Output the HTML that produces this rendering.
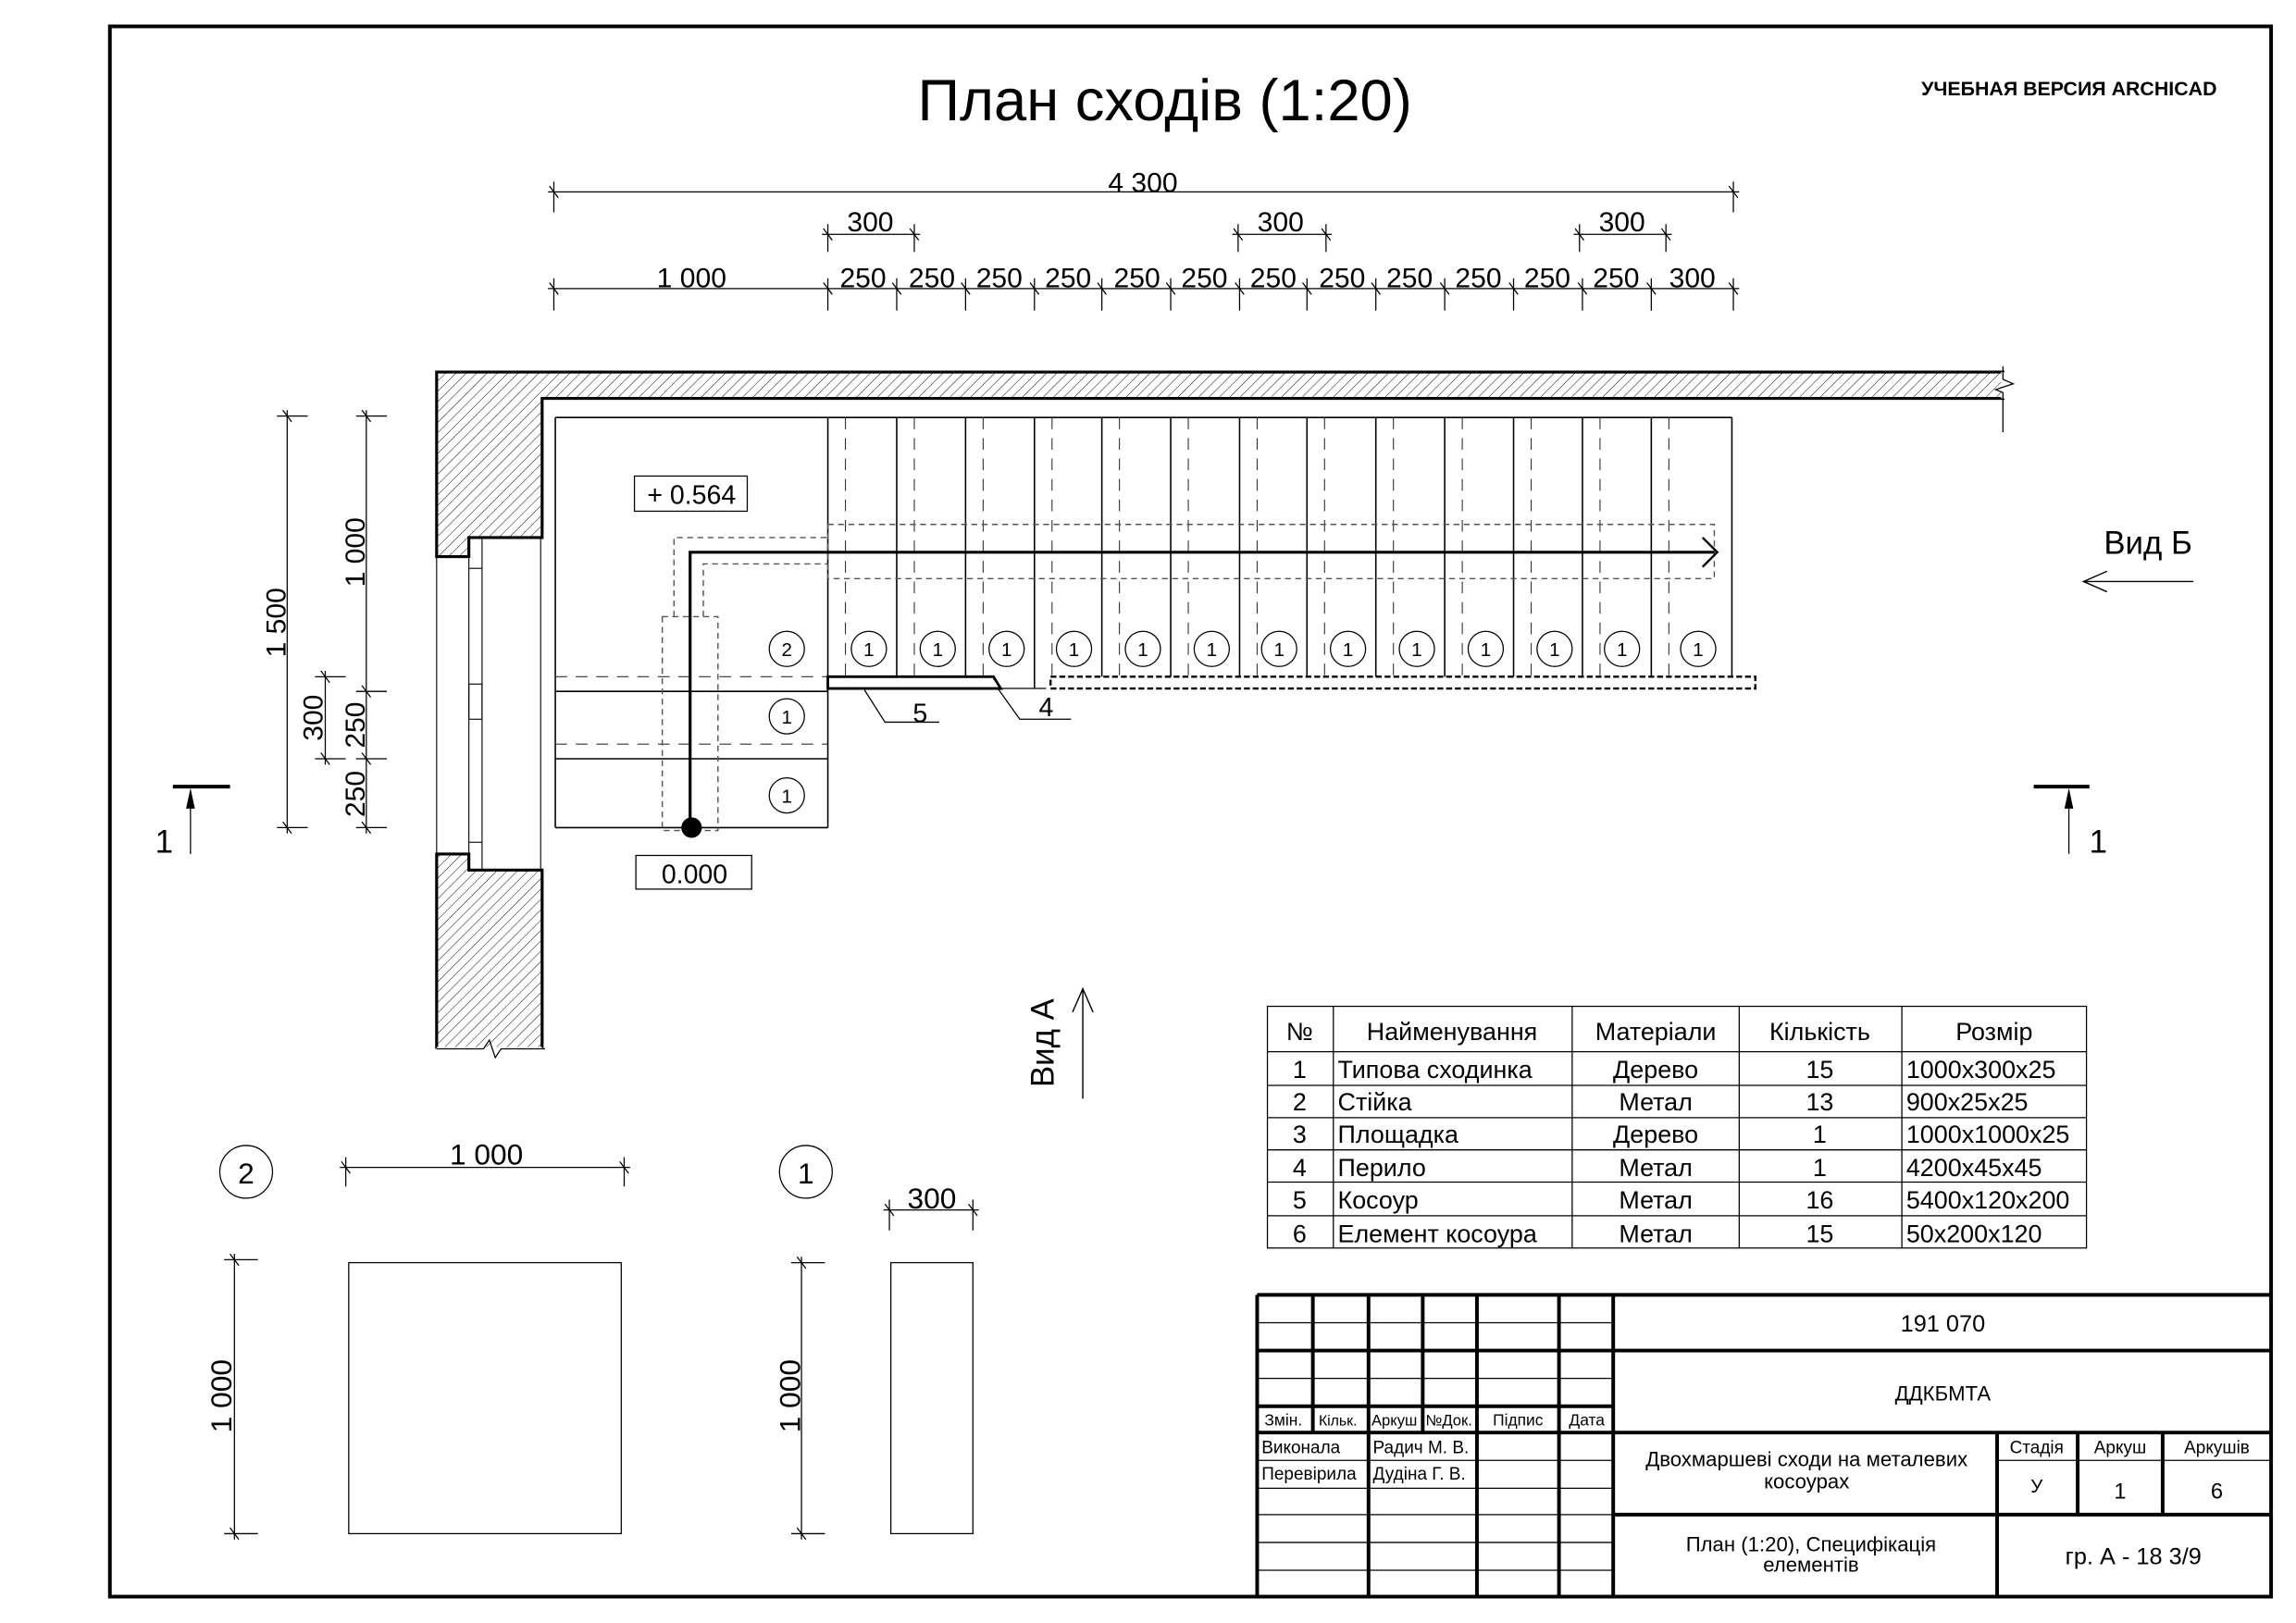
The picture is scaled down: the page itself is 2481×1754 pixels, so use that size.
<!DOCTYPE html>
<html><head><meta charset="utf-8"><style>html,body{margin:0;padding:0;background:#fff}svg{display:block}text{font-family:"Liberation Sans","DejaVu Sans",sans-serif;fill:#000}</style></head><body>
<svg width="2481" height="1754" viewBox="0 0 1567 1108" preserveAspectRatio="none" xmlns="http://www.w3.org/2000/svg">
<defs>
<pattern id="h" patternUnits="userSpaceOnUse" width="5" height="5" patternTransform="rotate(45)"><line x1="0" y1="0" x2="0" y2="5" stroke="#000" stroke-width="0.6"/></pattern>
</defs>
<rect x="75" y="18" width="1475" height="1072" fill="none" stroke="#000" stroke-width="2.5"/>
<text x="795" y="82" font-size="40" text-anchor="middle">План сходів (1:20)</text>
<text x="1513" y="65" font-size="13.5" font-weight="bold" text-anchor="end">УЧЕБНАЯ ВЕРСИЯ ARCHICAD</text>

<g stroke="#000" stroke-width="0.8" fill="none">
<line x1="374" y1="131" x2="1187" y2="131"/>
<line x1="378" y1="124" x2="378" y2="145"/><line x1="1183" y1="124" x2="1183" y2="145"/>
<line x1="375" y1="127" x2="381" y2="135"/><line x1="1180" y1="127" x2="1186" y2="135"/>
<line x1="561" y1="160" x2="628" y2="160"/><line x1="565" y1="153" x2="565" y2="172"/><line x1="624" y1="153" x2="624" y2="172"/>
<line x1="562" y1="156" x2="568" y2="164"/><line x1="621" y1="156" x2="627" y2="164"/>
<line x1="841" y1="160" x2="909" y2="160"/><line x1="845" y1="153" x2="845" y2="172"/><line x1="905" y1="153" x2="905" y2="172"/>
<line x1="842" y1="156" x2="848" y2="164"/><line x1="902" y1="156" x2="908" y2="164"/>
<line x1="1074" y1="160" x2="1141" y2="160"/><line x1="1078" y1="153" x2="1078" y2="172"/><line x1="1137" y1="153" x2="1137" y2="172"/>
<line x1="1075" y1="156" x2="1081" y2="164"/><line x1="1134" y1="156" x2="1140" y2="164"/>
<line x1="374" y1="197" x2="1187" y2="197"/>
<line x1="378" y1="190" x2="378" y2="212"/><line x1="375" y1="193" x2="381" y2="201"/>
<line x1="565" y1="190" x2="565" y2="212"/><line x1="562" y1="193" x2="568" y2="201"/>
<line x1="612" y1="190" x2="612" y2="212"/><line x1="609" y1="193" x2="615" y2="201"/>
<line x1="659" y1="190" x2="659" y2="212"/><line x1="656" y1="193" x2="662" y2="201"/>
<line x1="706" y1="190" x2="706" y2="212"/><line x1="703" y1="193" x2="709" y2="201"/>
<line x1="752" y1="190" x2="752" y2="212"/><line x1="749" y1="193" x2="755" y2="201"/>
<line x1="799" y1="190" x2="799" y2="212"/><line x1="796" y1="193" x2="802" y2="201"/>
<line x1="846" y1="190" x2="846" y2="212"/><line x1="843" y1="193" x2="849" y2="201"/>
<line x1="892" y1="190" x2="892" y2="212"/><line x1="889" y1="193" x2="895" y2="201"/>
<line x1="939" y1="190" x2="939" y2="212"/><line x1="936" y1="193" x2="942" y2="201"/>
<line x1="986" y1="190" x2="986" y2="212"/><line x1="983" y1="193" x2="989" y2="201"/>
<line x1="1033" y1="190" x2="1033" y2="212"/><line x1="1030" y1="193" x2="1036" y2="201"/>
<line x1="1080" y1="190" x2="1080" y2="212"/><line x1="1077" y1="193" x2="1083" y2="201"/>
<line x1="1127" y1="190" x2="1127" y2="212"/><line x1="1124" y1="193" x2="1130" y2="201"/>
<line x1="1183" y1="190" x2="1183" y2="212"/><line x1="1180" y1="193" x2="1186" y2="201"/>
<line x1="196" y1="280" x2="196" y2="569"/>
<line x1="189" y1="284" x2="210" y2="284"/><line x1="189" y1="565" x2="210" y2="565"/>
<line x1="193" y1="280" x2="199" y2="288"/><line x1="193" y1="561" x2="199" y2="569"/>
<line x1="250" y1="280" x2="250" y2="569"/>
<line x1="243" y1="284" x2="264" y2="284"/><line x1="243" y1="472" x2="264" y2="472"/><line x1="243" y1="518" x2="264" y2="518"/><line x1="243" y1="565" x2="264" y2="565"/>
<line x1="247" y1="280" x2="253" y2="288"/><line x1="247" y1="468" x2="253" y2="476"/><line x1="247" y1="514" x2="253" y2="522"/><line x1="247" y1="561" x2="253" y2="569"/>
<line x1="222" y1="458" x2="222" y2="522"/>
<line x1="215" y1="462" x2="236" y2="462"/><line x1="215" y1="518" x2="236" y2="518"/>
<line x1="219" y1="458" x2="225" y2="466"/><line x1="219" y1="514" x2="225" y2="522"/>
</g>
<g font-size="19" text-anchor="middle">
<text x="780" y="131">4 300</text>
<text x="594" y="158">300</text><text x="874" y="158">300</text><text x="1107" y="158">300</text>
<text x="472" y="196">1 000</text>
<text x="589" y="196">250</text><text x="636" y="196">250</text><text x="682" y="196">250</text><text x="729" y="196">250</text><text x="776" y="196">250</text><text x="822" y="196">250</text><text x="869" y="196">250</text><text x="916" y="196">250</text><text x="962" y="196">250</text><text x="1009" y="196">250</text><text x="1056" y="196">250</text><text x="1103" y="196">250</text><text x="1155" y="196">300</text>
<text transform="translate(195,425) rotate(-90)">1 500</text>
<text transform="translate(249,377) rotate(-90)">1 000</text>
<text transform="translate(249,495) rotate(-90)">250</text>
<text transform="translate(249,542) rotate(-90)">250</text>
<text transform="translate(220,490) rotate(-90)">300</text>
</g>

<path d="M298,254 H1367 V272 H370 V367 H320 V380 H298 Z" fill="url(#h)" stroke="#000" stroke-width="2"/>
<path d="M298,716 V583 H320 V594 H370 V716" fill="url(#h)" stroke="#000" stroke-width="2"/>
<line x1="298" y1="716" x2="370" y2="716" stroke="#fff" stroke-width="2.5"/>
<path d="M298,716 H330 L334,710 L338,722 L342,716 H372" fill="none" stroke="#000" stroke-width="0.8"/>
<line x1="1367" y1="254" x2="1367" y2="272" stroke="#fff" stroke-width="2.5"/>
<path d="M1367,250 V259 L1374,262 L1362,266 L1367,268 V295" fill="none" stroke="#000" stroke-width="0.8"/>
<g stroke="#000" stroke-width="0.7" fill="none">
<line x1="298" y1="380" x2="298" y2="583"/><line x1="320" y1="367" x2="320" y2="594"/><line x1="329" y1="367" x2="329" y2="594"/><line x1="369" y1="367" x2="369" y2="594"/>
<line x1="320" y1="388" x2="329" y2="388"/><line x1="320" y1="575" x2="329" y2="575"/>
<rect x="320" y="467" width="9" height="24"/>
</g>

<g stroke="#000" stroke-width="1" fill="none">
<line x1="379" y1="285" x2="1182" y2="285"/>
<line x1="379" y1="285" x2="379" y2="565"/>
<line x1="379" y1="565" x2="565" y2="565"/>
<line x1="379" y1="472" x2="565" y2="472"/><line x1="379" y1="518" x2="565" y2="518"/>
<line x1="565" y1="285" x2="565" y2="565"/>
<line x1="612" y1="285" x2="612" y2="462"/><line x1="659" y1="285" x2="659" y2="462"/><line x1="706" y1="285" x2="706" y2="470"/><line x1="752" y1="285" x2="752" y2="462"/><line x1="799" y1="285" x2="799" y2="462"/><line x1="846" y1="285" x2="846" y2="462"/><line x1="892" y1="285" x2="892" y2="462"/><line x1="939" y1="285" x2="939" y2="462"/><line x1="986" y1="285" x2="986" y2="462"/><line x1="1033" y1="285" x2="1033" y2="462"/><line x1="1080" y1="285" x2="1080" y2="462"/><line x1="1127" y1="285" x2="1127" y2="462"/><line x1="1182" y1="285" x2="1182" y2="462"/>
</g>
<g stroke="#333" stroke-width="0.7" fill="none" stroke-dasharray="8,6">
<line x1="577" y1="285" x2="577" y2="462"/><line x1="624" y1="285" x2="624" y2="462"/><line x1="671" y1="285" x2="671" y2="462"/><line x1="718" y1="285" x2="718" y2="462"/><line x1="764" y1="285" x2="764" y2="462"/><line x1="811" y1="285" x2="811" y2="462"/><line x1="858" y1="285" x2="858" y2="462"/><line x1="904" y1="285" x2="904" y2="462"/><line x1="951" y1="285" x2="951" y2="462"/><line x1="998" y1="285" x2="998" y2="462"/><line x1="1045" y1="285" x2="1045" y2="462"/><line x1="1092" y1="285" x2="1092" y2="462"/><line x1="1139" y1="285" x2="1139" y2="462"/>
<line x1="379" y1="462" x2="565" y2="462"/><line x1="379" y1="508" x2="565" y2="508"/>
</g>
<g stroke="#555" stroke-width="0.9" fill="none" stroke-dasharray="4,3">
<rect x="565" y="358" width="605" height="37"/>
<path d="M460,421 V367 H565"/><path d="M480,421 V385 H565"/>
<rect x="452" y="421" width="38" height="146"/>
</g>
<g stroke="#000" stroke-width="2" fill="none">
<path d="M471,565 V377 H1170"/>
<path d="M1162,367 L1172,377 L1162,387" stroke-width="1.5"/>
</g>
<ellipse cx="472" cy="565" rx="7" ry="7" fill="#000"/>
<path d="M565,462 H678 L683,470 H565 Z" fill="none" stroke="#000" stroke-width="1.8"/>
<line x1="683" y1="470" x2="714" y2="470" stroke="#000" stroke-width="0.8"/>
<rect x="717" y="462" width="481" height="8" fill="none" stroke="#000" stroke-width="1.5" stroke-dasharray="4,2"/>
<g stroke="#000" stroke-width="0.8" fill="none">
<path d="M590,471 L604,493 H641"/>
<path d="M681,470 L696,491 H731"/>
</g>
<text x="628" y="493" font-size="18" text-anchor="middle">5</text>
<text x="714" y="489" font-size="18" text-anchor="middle">4</text>
<g stroke="#000" stroke-width="0.8" fill="#fff">
<circle cx="537" cy="443" r="12"/><circle cx="537" cy="489" r="12"/><circle cx="537" cy="543" r="12"/>
<circle cx="593" cy="443" r="12"/><circle cx="640" cy="443" r="12"/><circle cx="687" cy="443" r="12"/><circle cx="733" cy="443" r="12"/><circle cx="780" cy="443" r="12"/><circle cx="827" cy="443" r="12"/><circle cx="873" cy="443" r="12"/><circle cx="920" cy="443" r="12"/><circle cx="967" cy="443" r="12"/><circle cx="1014" cy="443" r="12"/><circle cx="1061" cy="443" r="12"/><circle cx="1107" cy="443" r="12"/><circle cx="1159" cy="443" r="12"/>
</g>
<g font-size="13" text-anchor="middle">
<text x="537" y="448">2</text><text x="537" y="494">1</text><text x="537" y="548">1</text>
<text x="593" y="448">1</text><text x="640" y="448">1</text><text x="687" y="448">1</text><text x="733" y="448">1</text><text x="780" y="448">1</text><text x="827" y="448">1</text><text x="873" y="448">1</text><text x="920" y="448">1</text><text x="967" y="448">1</text><text x="1014" y="448">1</text><text x="1061" y="448">1</text><text x="1107" y="448">1</text><text x="1159" y="448">1</text>
</g>
<rect x="433" y="325" width="77" height="24" fill="none" stroke="#000" stroke-width="0.8"/>
<text x="472" y="344" font-size="18" text-anchor="middle">+ 0.564</text>
<rect x="434" y="584" width="79" height="23" fill="none" stroke="#000" stroke-width="0.8"/>
<text x="474" y="603" font-size="18" text-anchor="middle">0.000</text>

<g stroke="#000" fill="#000">
<line x1="118" y1="537" x2="157" y2="537" stroke-width="2.5"/>
<line x1="130" y1="550" x2="130" y2="583" stroke-width="0.8"/>
<path d="M127,552 L130,538 L133,552 Z" stroke="none"/>
<line x1="1388" y1="537" x2="1426" y2="537" stroke-width="2.5"/>
<line x1="1412" y1="550" x2="1412" y2="583" stroke-width="0.8"/>
<path d="M1409,552 L1412,538 L1415,552 Z" stroke="none"/>
</g>
<text x="112" y="582" font-size="22" text-anchor="middle">1</text>
<text x="1432" y="582" font-size="22" text-anchor="middle">1</text>
<text x="1466" y="378" font-size="22" text-anchor="middle">Вид Б</text>
<g stroke="#000" stroke-width="0.9" fill="none">
<line x1="1422" y1="397" x2="1497" y2="397"/><path d="M1438,390 L1422,397 L1438,404"/>
<line x1="739" y1="675" x2="739" y2="750"/><path d="M732,691 L739,675 L746,691"/>
</g>
<text transform="translate(719,712) rotate(-90)" font-size="22" text-anchor="middle">Вид А</text>

<g stroke="#000" stroke-width="0.8" fill="none">
<rect x="865" y="687" width="559" height="165"/>
<line x1="865" y1="718" x2="1424" y2="718"/><line x1="865" y1="741" x2="1424" y2="741"/><line x1="865" y1="763" x2="1424" y2="763"/><line x1="865" y1="785" x2="1424" y2="785"/><line x1="865" y1="807" x2="1424" y2="807"/><line x1="865" y1="830" x2="1424" y2="830"/>
<line x1="910" y1="687" x2="910" y2="852"/><line x1="1073" y1="687" x2="1073" y2="852"/><line x1="1187" y1="687" x2="1187" y2="852"/><line x1="1298" y1="687" x2="1298" y2="852"/>
</g>
<g font-size="17" font-family="DejaVu Sans Condensed, DejaVu Sans, sans-serif">
<g text-anchor="middle">
<text x="887" y="710">№</text><text x="991" y="710">Найменування</text><text x="1130" y="710">Матеріали</text><text x="1242" y="710">Кількість</text><text x="1361" y="710">Розмір</text>
<text x="887" y="736">1</text><text x="887" y="758">2</text><text x="887" y="780">3</text><text x="887" y="803">4</text><text x="887" y="825">5</text><text x="887" y="848">6</text>
<text x="1130" y="736">Дерево</text><text x="1130" y="758">Метал</text><text x="1130" y="780">Дерево</text><text x="1130" y="803">Метал</text><text x="1130" y="825">Метал</text><text x="1130" y="848">Метал</text>
<text x="1242" y="736">15</text><text x="1242" y="758">13</text><text x="1242" y="780">1</text><text x="1242" y="803">1</text><text x="1242" y="825">16</text><text x="1242" y="848">15</text>
</g>
<text x="913" y="736">Типова сходинка</text><text x="913" y="758">Стійка</text><text x="913" y="780">Площадка</text><text x="913" y="803">Перило</text><text x="913" y="825">Косоур</text><text x="913" y="848">Елемент косоура</text>
<text x="1301" y="736">1000x300x25</text><text x="1301" y="758">900x25x25</text><text x="1301" y="780">1000x1000x25</text><text x="1301" y="803">4200x45x45</text><text x="1301" y="825">5400x120x200</text><text x="1301" y="848">50x200x120</text>
</g>

<g stroke="#000" stroke-width="0.8" fill="none">
<circle cx="168" cy="800" r="18"/><circle cx="550" cy="800" r="18"/>
<line x1="232" y1="797" x2="430" y2="797"/><line x1="236" y1="790" x2="236" y2="810"/><line x1="426" y1="790" x2="426" y2="810"/>
<line x1="233" y1="793" x2="239" y2="801"/><line x1="423" y1="793" x2="429" y2="801"/>
<rect x="238" y="862" width="186" height="185"/>
<line x1="160" y1="856" x2="160" y2="1051"/><line x1="153" y1="860" x2="176" y2="860"/><line x1="153" y1="1047" x2="176" y2="1047"/>
<line x1="157" y1="856" x2="163" y2="864"/><line x1="157" y1="1043" x2="163" y2="1051"/>
<line x1="603" y1="826" x2="668" y2="826"/><line x1="607" y1="819" x2="607" y2="840"/><line x1="664" y1="819" x2="664" y2="840"/>
<line x1="604" y1="822" x2="610" y2="830"/><line x1="661" y1="822" x2="667" y2="830"/>
<rect x="608" y="862" width="56" height="185"/>
<line x1="547" y1="858" x2="547" y2="1051"/><line x1="540" y1="862" x2="563" y2="862"/><line x1="540" y1="1047" x2="563" y2="1047"/>
<line x1="544" y1="858" x2="550" y2="866"/><line x1="544" y1="1043" x2="550" y2="1051"/>
</g>
<g font-size="20" text-anchor="middle">
<text x="168" y="808">2</text><text x="550" y="808">1</text>
<text x="332" y="795">1 000</text><text x="636" y="825">300</text>
<text transform="translate(158,953) rotate(-90)">1 000</text>
<text transform="translate(546,953) rotate(-90)">1 000</text>
</g>

<g stroke="#000" fill="none">
<g stroke-width="0.8">
<line x1="858" y1="903" x2="1101" y2="903"/><line x1="858" y1="941" x2="1101" y2="941"/>
<line x1="858" y1="1016" x2="1101" y2="1016"/><line x1="858" y1="1034" x2="1101" y2="1034"/><line x1="858" y1="1053" x2="1101" y2="1053"/><line x1="858" y1="1072" x2="1101" y2="1072"/>
<line x1="858" y1="997" x2="1101" y2="997"/>
<line x1="1363" y1="997" x2="1550" y2="997"/>
</g>
<g stroke-width="2.5">
<line x1="858" y1="884" x2="1550" y2="884"/>
<line x1="858" y1="884" x2="858" y2="1090"/>
<line x1="858" y1="922" x2="1550" y2="922"/>
<line x1="858" y1="960" x2="1101" y2="960"/>
<line x1="858" y1="978" x2="1550" y2="978"/>
<line x1="1101" y1="1034" x2="1550" y2="1034"/>
<line x1="1101" y1="884" x2="1101" y2="1090"/>
<line x1="934" y1="884" x2="934" y2="1090"/>
<line x1="1008" y1="884" x2="1008" y2="1090"/>
<line x1="1064" y1="884" x2="1064" y2="1090"/>
<line x1="896" y1="884" x2="896" y2="978"/>
<line x1="971" y1="884" x2="971" y2="978"/>
<line x1="1363" y1="978" x2="1363" y2="1090"/>
<line x1="1418" y1="978" x2="1418" y2="1034"/>
<line x1="1476" y1="978" x2="1476" y2="1034"/>
</g>
</g>
<g font-size="11">
<text x="863" y="973">Змін.</text><text x="900" y="973" font-size="10">Кільк.</text><text x="936" y="973" font-size="10.5">Аркуш</text><text x="973" y="973" font-size="10.5">№Док.</text><text x="1036" y="973" text-anchor="middle">Підпис</text><text x="1083" y="973" text-anchor="middle">Дата</text>
<text x="861" y="992" font-size="12">Виконала</text><text x="937" y="992" font-size="12">Радич М. В.</text>
<text x="861" y="1010" font-size="12">Перевірила</text><text x="937" y="1010" font-size="12">Дудіна Г. В.</text>
</g>
<g text-anchor="middle">
<text x="1326" y="909" font-size="16">191 070</text>
<text x="1326" y="956" font-size="14">ДДКБМТА</text>
<text x="1233" y="1001" font-size="14">Двохмаршеві сходи на металевих</text>
<text x="1233" y="1016" font-size="14">косоурах</text>
<text x="1390" y="992" font-size="12">Стадія</text><text x="1447" y="992" font-size="12">Аркуш</text><text x="1513" y="992" font-size="12">Аркушів</text>
<text x="1390" y="1019" font-size="13">У</text><text x="1447" y="1023" font-size="15">1</text><text x="1513" y="1023" font-size="15">6</text>
<text x="1236" y="1059" font-size="14">План (1:20), Специфікація</text>
<text x="1236" y="1073" font-size="14">елементів</text>
<text x="1456" y="1068" font-size="16">гр. А - 18 3/9</text>
</g>
</svg>
</body></html>
